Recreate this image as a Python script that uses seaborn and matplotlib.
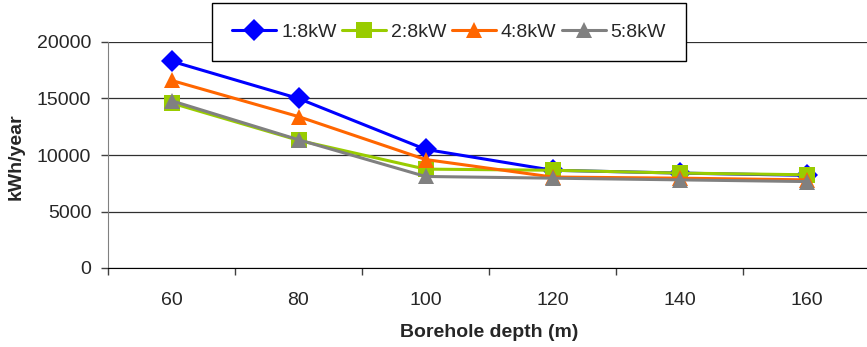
import matplotlib
matplotlib.use('Agg')
import matplotlib.pyplot as plt
import pandas as pd
import seaborn as sns

# данные с графика
depth = [60, 80, 100, 120, 140, 160]
kw1 = [18300, 15000, 10500, 8650, 8400, 8200]
kw2 = [14600, 11300, 8750, 8650, 8400, 8250]
kw4 = [16600, 13400, 9600, 8050, 7950, 7800]
kw5 = [14800, 11350, 8100, 7950, 7800, 7650]
series = ['1:8kW', '2:8kW', '4:8kW', '5:8kW']

df = pd.DataFrame({'depth': depth * 4,
                   'kwh': kw1 + kw2 + kw4 + kw5,
                   'series': [s for s in series for _ in depth]})

sns.set_style('white')
plt.rcParams['font.family'] = ['Liberation Sans', 'DejaVu Sans']
plt.rcParams['font.size'] = 14

colors = {'1:8kW': '#0000FF', '2:8kW': '#99CC00', '4:8kW': '#FF6600', '5:8kW': '#808080'}
markers = {'1:8kW': 'D', '2:8kW': 's', '4:8kW': '^', '5:8kW': '^'}

fig = plt.figure(figsize=(8.67, 3.47), dpi=100)
ax = fig.add_axes([108/867, 1 - 268/347, 762/867, 226/347])

sns.lineplot(data=df, x='depth', y='kwh', hue='series', style='series',
             palette=colors, markers=markers, dashes=False, hue_order=series,
             style_order=series, linewidth=2.2, markersize=11, markeredgewidth=0,
             ax=ax)

ax.set_xlim(50, 170)
ax.set_ylim(0, 20000)
ax.set_yticks([0, 5000, 10000, 15000, 20000])
ax.set_xticks(depth)
ax.set_xticks([50, 70, 90, 110, 130, 150, 170], minor=True)
ax.tick_params(axis='x', which='major', length=0, pad=17, labelsize=14)
ax.tick_params(axis='x', which='minor', length=5, width=1, direction='out', color='#404040', bottom=True)
ax.tick_params(axis='y', length=5, width=1, direction='out', color='#404040', left=True, pad=7, labelsize=14)
ax.grid(axis='y', color='#303030', linewidth=0.9)
ax.set_axisbelow(True)
for s in ['top', 'right']:
    ax.spines[s].set_visible(False)
ax.spines['left'].set_color('#808080')
ax.spines['bottom'].set_color('black')

ax.set_xlabel('Borehole depth (m)', fontweight='bold', fontsize=14)
ax.set_ylabel('kWh/year', fontweight='bold', fontsize=14)
ax.xaxis.set_label_coords(0.5, -0.248)
ax.yaxis.set_label_coords(-0.109, 0.492)

handles, labels = ax.get_legend_handles_labels()
ax.get_legend().remove()
leg = fig.legend(handles, labels, ncol=4, loc='upper left',
                 bbox_to_anchor=(212/867, 1 - 3/347), frameon=True, fancybox=False,
                 edgecolor='black', framealpha=1, handlelength=2.25, columnspacing=0.3,
                 handletextpad=0.25, borderpad=1.05, borderaxespad=0, fontsize=14)
leg.get_frame().set_linewidth(1)

plt.savefig('out.png', dpi=100)
